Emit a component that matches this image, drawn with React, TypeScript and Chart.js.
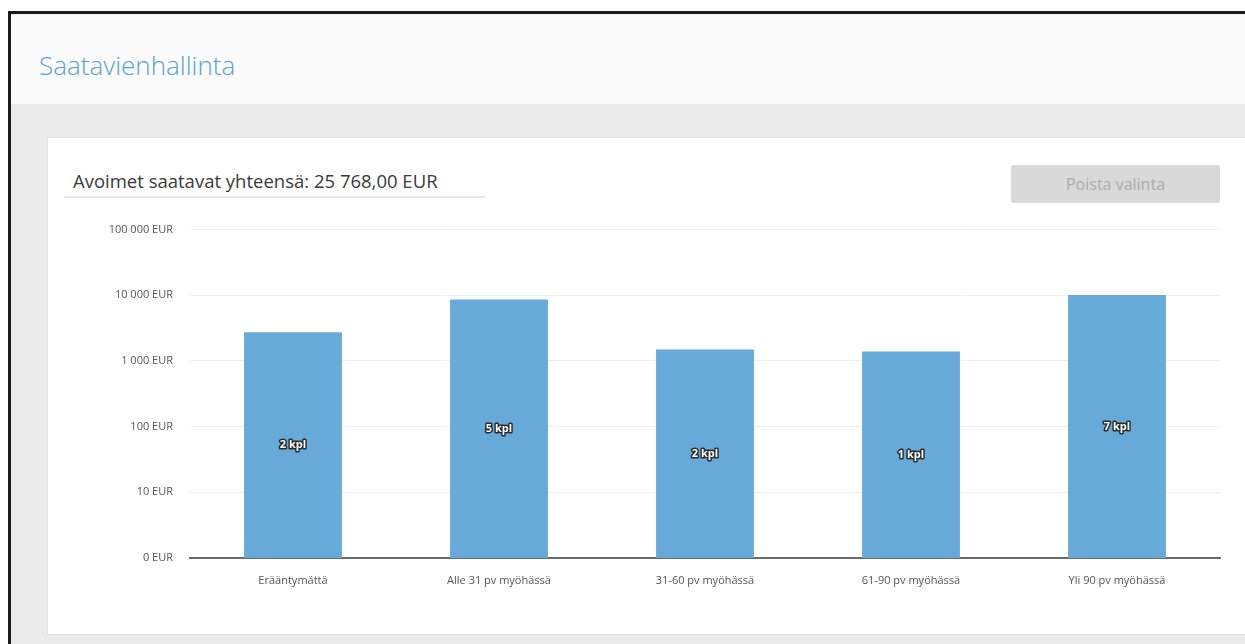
import React, { useEffect, useRef } from "react";
import { Chart, registerables } from "chart.js";

Chart.register(...registerables);

const categories = [
  "Erääntymättä",
  "Alle 31 pv myöhässä",
  "31-60 pv myöhässä",
  "61-90 pv myöhässä",
  "Yli 90 pv myöhässä",
];
const amounts = [2740, 8600, 1500, 1390, 10100];
const counts = [2, 5, 2, 1, 7];
const yTicks = [1, 10, 100, 1000, 10000, 100000];

const fmt = (v: number) => {
  if (v <= 1) return "0 EUR";
  return String(Math.round(v)).replace(/\B(?=(\d{3})+(?!\d))/g, " ") + " EUR";
};

const barLabels = {
  id: "barLabels",
  afterDatasetsDraw(chart: any) {
    const ctx = chart.ctx;
    const meta = chart.getDatasetMeta(0);
    ctx.save();
    ctx.font = "bold 11px 'Open Sans'";
    ctx.textAlign = "center";
    ctx.textBaseline = "middle";
    ctx.lineJoin = "round";
    meta.data.forEach((bar: any, i: number) => {
      const x = bar.x;
      const y = (bar.y + bar.base) / 2;
      const t = counts[i] + " kpl";
      ctx.strokeStyle = "#2a2a2a";
      ctx.lineWidth = 3;
      ctx.strokeText(t, x, y);
      ctx.fillStyle = "#ffffff";
      ctx.fillText(t, x, y);
    });
    ctx.restore();
  },
};

export default function App() {
  const ref = useRef<HTMLCanvasElement | null>(null);

  useEffect(() => {
    if (!ref.current) return;
    const chart = new Chart(ref.current, {
      type: "bar",
      data: {
        labels: categories,
        datasets: [
          {
            data: amounts,
            backgroundColor: "#67aad9",
            borderWidth: 0,
            categoryPercentage: 1,
            barPercentage: 0.475,
          },
        ],
      },
      options: {
        animation: false,
        responsive: false,
        maintainAspectRatio: false,
        layout: { padding: { top: 5, right: 10, bottom: 0, left: 0 } },
        plugins: {
          legend: { display: false },
          tooltip: { enabled: false },
        },
        scales: {
          x: {
            grid: { display: false },
            border: { display: true, color: "#6b6b6b", width: 2 },
            ticks: {
              color: "#555",
              font: { family: "'Open Sans'", size: 11 },
              padding: 8,
              maxRotation: 0,
            },
            afterFit: (s: any) => {
              s.height = 42;
            },
          },
          y: {
            type: "logarithmic",
            min: 1,
            max: 100000,
            border: { display: false },
            grid: {
              color: (c: any) => (c.tick && c.tick.value === 1 ? "rgba(0,0,0,0)" : "#efefef"),
              lineWidth: 1,
              drawTicks: false,
            },
            afterBuildTicks: (s: any) => {
              s.ticks = yTicks.map((v) => ({ value: v }));
            },
            ticks: {
              color: "#555",
              font: { family: "'Open Sans'", size: 11 },
              padding: 17,
              callback: (v: any) => fmt(Number(v)),
            },
            afterFit: (s: any) => {
              s.width = 130;
            },
          },
        },
      },
      plugins: [barLabels],
    });
    return () => chart.destroy();
  }, []);

  return (
    <div
      style={{
        position: "absolute",
        left: 0,
        top: 0,
        width: 1245,
        height: 644,
        background: "#ffffff",
        overflow: "hidden",
        fontFamily: "'Open Sans', sans-serif",
      }}
    >
      {/* frame */}
      <div
        style={{
          position: "absolute",
          left: 8,
          top: 11,
          width: 1237,
          height: 633,
          borderTop: "3px solid #1a1a1a",
          borderLeft: "3px solid #1a1a1a",
          boxSizing: "border-box",
          background: "#ebebeb",
        }}
      />
      {/* header */}
      <div
        style={{
          position: "absolute",
          left: 11,
          top: 14,
          width: 1234,
          height: 90,
          background: "#fafafa",
          borderTop: "1px solid #ececec",
          boxSizing: "border-box",
        }}
      />
      <div
        style={{
          position: "absolute",
          left: 39,
          top: 47,
          fontSize: 26,
          color: "#56a2d6",
          fontWeight: 300,
          lineHeight: "36px",
        }}
      >
        Saatavienhallinta
      </div>
      {/* card */}
      <div
        style={{
          position: "absolute",
          left: 47,
          top: 137,
          width: 1210,
          height: 498,
          background: "#ffffff",
          border: "1px solid #e2e2e2",
          boxSizing: "border-box",
        }}
      />
      <div
        style={{
          position: "absolute",
          left: 73,
          top: 167,
          fontSize: 18.5,
          color: "#3a3a3a",
          lineHeight: "28px",
          whiteSpace: "nowrap",
        }}
      >
        Avoimet saatavat yhteensä: 25 768,00 EUR
      </div>
      <div
        style={{
          position: "absolute",
          left: 64,
          top: 196,
          width: 421,
          height: 2,
          background: "#e6e6e6",
        }}
      />
      <div
        style={{
          position: "absolute",
          left: 1011,
          top: 165,
          width: 209,
          height: 38,
          background: "#d9d9d9",
          borderRadius: 3,
          color: "#ababab",
          fontSize: 16,
          lineHeight: "38px",
          textAlign: "center",
        }}
      >
        Poista valinta
      </div>
      <canvas
        ref={ref}
        width={1170}
        height={394}
        style={{ position: "absolute", left: 60, top: 206, width: 1170, height: 394 }}
      />
    </div>
  );
}
